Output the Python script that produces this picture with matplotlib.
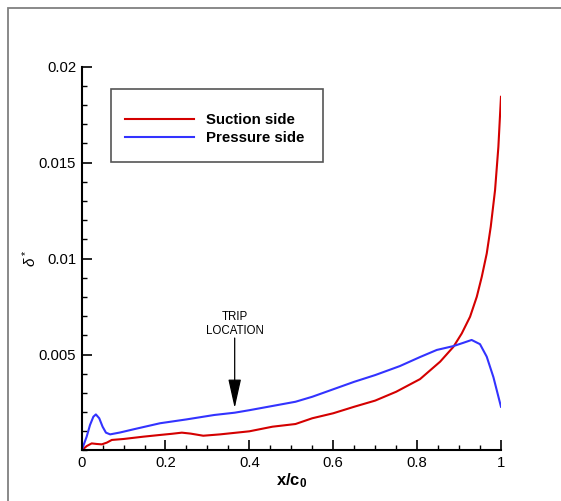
import matplotlib
matplotlib.use("Agg")
import matplotlib.pyplot as plt
from matplotlib.patches import Rectangle
from matplotlib.ticker import MultipleLocator, FixedLocator

plt.rcParams['font.family'] = ['Liberation Sans', 'DejaVu Sans']
plt.rcParams['mathtext.fontset'] = 'custom'
plt.rcParams['mathtext.rm'] = 'Liberation Sans'
plt.rcParams['mathtext.it'] = 'Liberation Sans:italic'
plt.rcParams['mathtext.bf'] = 'Liberation Sans:bold'

# suction side displacement thickness
x_suction = [0.0, 0.012, 0.024, 0.036, 0.048, 0.060, 0.072, 0.1, 0.147, 0.187, 0.215,
             0.239, 0.26, 0.29, 0.33, 0.4, 0.455, 0.51, 0.55, 0.6, 0.65, 0.7, 0.75,
             0.807, 0.855, 0.8865, 0.9065, 0.9263, 0.9423, 0.9542, 0.9661, 0.9756,
             0.9859, 0.9938, 1.0]
d_suction = [0.0, 0.00023, 0.00037, 0.00034, 0.00032, 0.00041, 0.00055, 0.0006, 0.00072,
             0.00081, 0.00087, 0.00093, 0.00088, 0.00077, 0.00084, 0.001, 0.00124,
             0.00138, 0.00168, 0.00194, 0.00228, 0.0026, 0.00306, 0.00372, 0.00463,
             0.0054, 0.0061, 0.00697, 0.00801, 0.00905, 0.01027, 0.01166, 0.01357,
             0.01582, 0.01843]

# pressure side displacement thickness
x_pressure = [0.0, 0.012, 0.020, 0.028, 0.034, 0.042, 0.050, 0.058, 0.068, 0.092, 0.123,
              0.187, 0.25, 0.316, 0.365, 0.4, 0.455, 0.51, 0.55, 0.6, 0.65, 0.7, 0.759,
              0.807, 0.847, 0.8865, 0.910, 0.930, 0.950, 0.966, 0.982, 1.0]
d_pressure = [0.0, 0.00072, 0.00133, 0.00176, 0.00188, 0.00168, 0.00124, 0.00093,
              0.00084, 0.00094, 0.0011, 0.00142, 0.00162, 0.00185, 0.00197, 0.0021,
              0.00232, 0.00254, 0.0028, 0.00319, 0.00358, 0.00393, 0.0044, 0.00487,
              0.00524, 0.00544, 0.00561, 0.00576, 0.00554, 0.00489, 0.00382, 0.00228]

trip_x = 0.365
y_ticks = [0.005, 0.01, 0.015, 0.02]
y_labels = ['0.005', '0.01', '0.015', '0.02']
x_ticks = [0, 0.2, 0.4, 0.6, 0.8, 1.0]
x_labels = ['0', '0.2', '0.4', '0.6', '0.8', '1']

fig = plt.figure(figsize=(5.61, 5.01), dpi=100)
ax = fig.add_axes([0.1455, 0.1008, 0.7475, 0.7661])

# outer frame
fig.patches.append(Rectangle((8 / 561, -0.2), 1.2, 0.984 + 0.2, transform=fig.transFigure,
                             fill=False, edgecolor='#808080', linewidth=1.3))

ax.plot(x_suction, d_suction, color='#d40000', lw=1.5, label='Suction side')
ax.plot(x_pressure, d_pressure, color='#3333ff', lw=1.5, label='Pressure side')

ax.set_xlim(0, 1)
ax.set_ylim(0, 0.02)
ax.spines['top'].set_visible(False)
ax.spines['right'].set_visible(False)
ax.spines['left'].set_linewidth(1.5)
ax.spines['bottom'].set_linewidth(1.5)

ax.xaxis.set_major_locator(FixedLocator(x_ticks))
ax.set_xticklabels(x_labels)
ax.xaxis.set_minor_locator(MultipleLocator(0.05))
ax.yaxis.set_major_locator(FixedLocator(y_ticks))
ax.set_yticklabels(y_labels)
ax.yaxis.set_minor_locator(MultipleLocator(0.001))
ax.tick_params(which='major', direction='in', length=7.5, width=1.2, labelsize=10.7, pad=4)
ax.tick_params(which='minor', direction='in', length=3.8, width=1.0)

ax.set_xlabel(r'x/c$_\mathbf{0}$', fontsize=12, fontweight='bold', labelpad=1)
fig.text(30 / 561, 1 - 258 / 501, r'$\delta^*$', rotation=90, ha='center', va='center',
         fontsize=11)

# trip location arrow
ax.annotate('', xy=(trip_x, 0.00221), xytext=(trip_x, 0.00586),
            arrowprops=dict(arrowstyle='-|>,head_length=1.8,head_width=0.4',
                            color='black', lw=0.9, shrinkA=0, shrinkB=0))
ax.text(trip_x, 0.0059, 'TRIP\nLOCATION', ha='center', va='bottom', fontsize=8.3,
        linespacing=1.2)

# legend
fig.patches.append(Rectangle((111 / 561, 1 - 162 / 501), 212 / 561, 73 / 501,
                             transform=fig.transFigure, fill=False,
                             edgecolor='#555555', linewidth=1.2))
leg = ax.legend(loc='upper left', bbox_to_anchor=(120 / 561, 1 - 109 / 501),
                bbox_transform=fig.transFigure, frameon=False, handlelength=4.6,
                handletextpad=0.8, labelspacing=0.25, borderaxespad=0, borderpad=0.3,
                prop={'weight': 'bold', 'size': 10.8})

fig.savefig('out.png', dpi=100)
